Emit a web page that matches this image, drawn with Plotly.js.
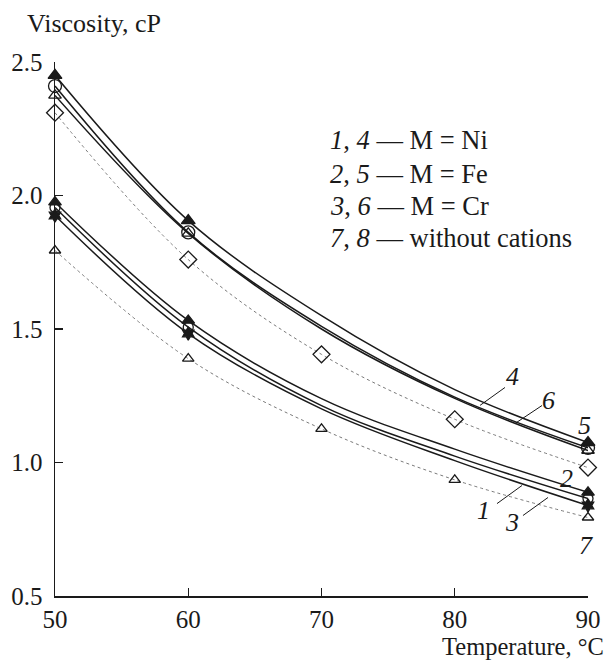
<!DOCTYPE html>
<html>
<head>
<meta charset="utf-8">
<script src="https://cdn.plot.ly/plotly-3.0.1.min.js"></script>
<style>
html,body{margin:0;padding:0;background:#fff;}
#chart{width:606px;height:660px;}
</style>
</head>
<body>
<div id="chart"></div>
<script>
// Temperatures (°C)
var temps = [50, 60, 70, 80, 90];
var markerTemps = [50, 60, 90];

// Viscosity (cP), upper group (curves 4, 5, 6)
var curve4 = [2.45, 1.906, 1.55, 1.273, 1.075];
var curve5 = [2.41, 1.862, 1.51, 1.245, 1.055];
var curve6 = [2.375, 1.858, 1.50, 1.24, 1.045];
// lower group (curves 2, 1, 3)
var curve2 = [1.975, 1.532, 1.239, 1.05, 0.888];
var curve1 = [1.955, 1.507, 1.213, 1.024, 0.865];
var curve3 = [1.925, 1.483, 1.201, 1.007, 0.839];
// without cations
var curve8 = [2.31, 1.76, 1.405, 1.162, 0.981];
var curve7 = [1.794, 1.389, 1.126, 0.935, 0.794];

var xTicks = [50, 60, 70, 80, 90];
var yTicks = [0.5, 1.0, 1.5, 2.0, 2.5];
var yTickText = ["0.5", "1.0", "1.5", "2.0", "2.5"];

var legendLines = [
  "<i>1</i>, <i>4</i> — M = Ni",
  "<i>2</i>, <i>5</i> — M = Fe",
  "<i>3</i>, <i>6</i> — M = Cr",
  "<i>7</i>, <i>8</i> — without cations"
];

var curveLabels = ["4", "6", "5", "2", "8", "1", "3", "7"];
var labelX = [84.37, 87.0, 89.77, 88.42, 90.83, 82.12, 84.3, 89.85];
var labelY = [1.322, 1.233, 1.138, 0.94, 0.929, 0.82, 0.775, 0.689];

function pick(arr) {
  return markerTemps.map(function (t) { return arr[temps.indexOf(t)]; });
}

var FONT = '"Liberation Serif", "Times New Roman", Times, serif';
var BLACK = "#1a1a1a";

function solidLine(y) {
  return {x: temps, y: y, mode: "lines", line: {color: BLACK, width: 1.5, shape: "spline", smoothing: 1}, hoverinfo: "skip", cliponaxis: false};
}
function dotLine(y) {
  return {x: temps, y: y, mode: "lines", line: {color: "#7a7a7a", width: 1, dash: "dot", shape: "spline", smoothing: 1}, hoverinfo: "skip", cliponaxis: false};
}
function marks(x, y, sym, size) {
  return {x: x, y: y, mode: "markers", cliponaxis: false,
    marker: {symbol: sym, size: size, color: BLACK, line: {color: BLACK, width: 1.3}}};
}

var data = [
  dotLine(curve8), dotLine(curve7),
  solidLine(curve4), solidLine(curve5), solidLine(curve6),
  solidLine(curve2), solidLine(curve1), solidLine(curve3),
  marks(temps, curve8, "diamond-open", 13),
  marks(temps, curve7, "triangle-up-open", 10),
  marks(markerTemps, pick(curve6), "triangle-up-open", 11),
  marks(markerTemps, pick(curve5), "circle-open", 13),
  marks(markerTemps, pick(curve4), "triangle-up", 12),
  marks(markerTemps, pick(curve3), "hexagram", 10),
  marks(markerTemps, pick(curve1), "circle-open", 10),
  marks(markerTemps, pick(curve2), "triangle-up", 11)
];

var annotations = [];
legendLines.forEach(function (t, i) {
  annotations.push({xref: "paper", yref: "paper", x: 0.512, y: [0.853, 0.791, 0.731, 0.671][i],
    xanchor: "left", yanchor: "middle", text: t, showarrow: false,
    font: {family: FONT, size: 26.5, color: BLACK}});
});
curveLabels.forEach(function (t, i) {
  annotations.push({xref: "x", yref: "y", x: labelX[i], y: labelY[i], xanchor: "center", yanchor: "middle",
    text: "<i>" + t + "</i>", showarrow: false, font: {family: FONT, size: 26, color: BLACK}});
});
annotations.push({xref: "paper", yref: "paper", x: 0.203, y: 1.072, xanchor: "right", yanchor: "middle",
  text: "Viscosity, cP", showarrow: false, font: {family: FONT, size: 26, color: BLACK}});
annotations.push({xref: "paper", yref: "paper", x: 1.033, y: -0.094, xanchor: "right", yanchor: "middle",
  text: "Temperature, °C", showarrow: false, font: {family: FONT, size: 24.5, color: BLACK}});

var leaders = [
  [83.77, 1.281, 81.9, 1.214],
  [86.55, 1.2135, 84.52, 1.146],
  [83.17, 0.846, 85.05, 0.914],
  [85.12, 0.8015, 87.0, 0.869]
];
var shapes = leaders.map(function (l) {
  return {type: "line", xref: "x", yref: "y", x0: l[0], y0: l[1], x1: l[2], y1: l[3], line: {color: BLACK, width: 1}};
});

var layout = {
  width: 606, height: 660,
  margin: {l: 55, r: 18, t: 62, b: 64, pad: 0},
  paper_bgcolor: "#fff", plot_bgcolor: "#fff",
  showlegend: false,
  font: {family: FONT, size: 25, color: BLACK},
  xaxis: {range: [50, 90], tickvals: xTicks, ticks: "inside", ticklen: 8, tickwidth: 1.3, tickcolor: BLACK,
    showline: true, linecolor: BLACK, linewidth: 1.5, showgrid: false, zeroline: false,
    tickfont: {family: FONT, size: 25, color: BLACK}, fixedrange: true},
  yaxis: {range: [0.5, 2.5], tickvals: yTicks, ticktext: yTickText, ticks: "inside", ticklen: 8, tickwidth: 1.3, tickcolor: BLACK,
    showline: true, linecolor: BLACK, linewidth: 1.5, showgrid: false, zeroline: false, ticklabelstandoff: 6,
    tickfont: {family: FONT, size: 25, color: BLACK}, fixedrange: true},
  annotations: annotations,
  shapes: shapes
};

Plotly.newPlot("chart", data, layout, {displayModeBar: false, staticPlot: true});
</script>
</body>
</html>
